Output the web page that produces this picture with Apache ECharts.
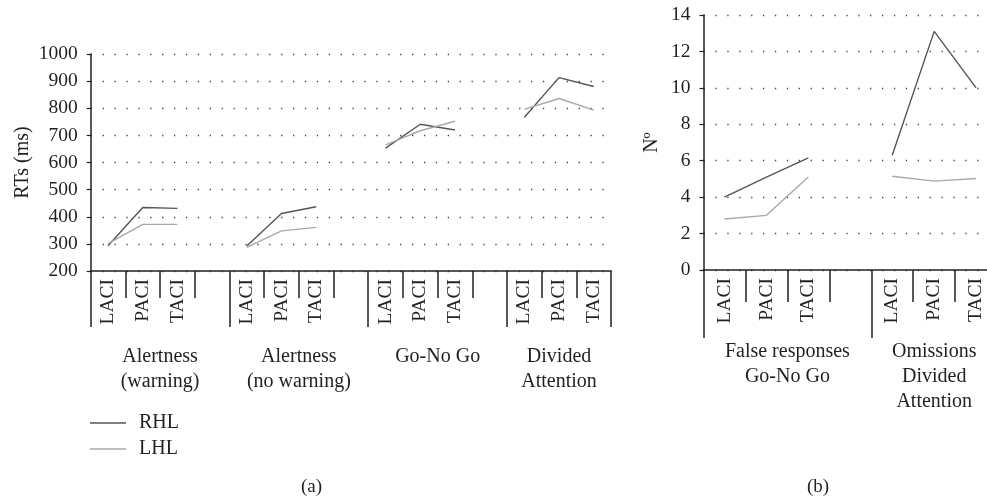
<!DOCTYPE html>
<html>
<head>
<meta charset="utf-8">
<script src="https://cdn.jsdelivr.net/npm/echarts@6/dist/echarts.min.js"></script>
<style>
  html, body { margin: 0; padding: 0; background: #fff; }
  #chart { width: 987px; height: 498px; }
</style>
</head>
<body>
<div id="chart"></div>
<script>
// data
const SUBTESTS = ['LACI', 'PACI', 'TACI'];
const GROUPS_A = ['Alertness\n(warning)', 'Alertness\n(no warning)', 'Go-No Go', 'Divided\nAttention'];
const GROUPS_B = ['False responses\nGo-No Go', 'Omissions\nDivided\nAttention'];

// RTs (ms), one row per task: LACI, PACI, TACI
const RHL_A = [[293, 434, 431], [292, 412, 437], [653, 741, 720], [767, 913, 880]];
const LHL_A = [[301, 372, 372], [287, 348, 361], [665, 717, 752], [796, 836, 793]];
// counts (Nº)
const RHL_B = [[4.0, 5.1, 6.15], [6.3, 13.1, 10.0]];
const LHL_B = [[2.8, 3.0, 5.1], [5.15, 4.88, 5.02]];

const font = 'Liberation Serif';
const ink = '#231f20';
const dark = '#555555';
const light = '#a9a9a9';

// category cells: LACI PACI TACI, blank between tasks
function buildCats(groups) {
  const cats = [];
  groups.forEach((g, i) => {
    cats.push(...SUBTESTS);
    if (i < groups.length - 1) cats.push('');
  });
  return cats;
}

function buildSeries(rows) {
  const out = [];
  rows.forEach((vals, i) => {
    out.push(...vals);
    if (i < rows.length - 1) out.push(null);
  });
  return out;
}

function groupStarts(groups) {
  return groups.map((g, i) => i * 4);
}

// half-cell points so a task label can sit at the middle of its span
function buildGroupAxis(groups, nCats) {
  const arr = new Array(2 * nCats + 1).fill('');
  let start = 0;
  groups.forEach((g, i) => {
    const size = i < groups.length - 1 ? 4 : 3;
    arr[2 * start + size] = g;
    start += size;
  });
  return arr;
}

const catsA = buildCats(GROUPS_A);
const catsB = buildCats(GROUPS_B);

function panelX(gridIndex, cats, groups, shortLen, longLen, groupMargin) {
  const starts = groupStarts(groups);
  return [
    {
      type: 'category', gridIndex, position: 'bottom', data: cats,
      axisLine: { lineStyle: { color: ink, width: 1.5 } },
      axisTick: { show: true, interval: 0, length: shortLen, lineStyle: { color: ink, width: 1.5 } },
      axisLabel: { interval: 0, rotate: 90, margin: 8, fontFamily: font, fontSize: 19.5, color: ink },
      splitLine: { show: false }
    },
    {
      type: 'category', gridIndex, position: 'bottom', data: cats,
      axisLine: { show: false },
      axisTick: { show: true, interval: (i) => starts.includes(i), length: longLen, lineStyle: { color: ink, width: 1.5 } },
      axisLabel: { show: false },
      splitLine: { show: false }
    },
    {
      type: 'category', gridIndex, position: 'bottom', boundaryGap: false,
      data: buildGroupAxis(groups, cats.length),
      axisLine: { show: false },
      axisTick: { show: false },
      axisLabel: { interval: 0, margin: groupMargin, fontFamily: font, fontSize: 20, lineHeight: 25, color: ink },
      splitLine: { show: false }
    }
  ];
}

function panelY(gridIndex, min, max, interval, name, nameGap) {
  return {
    type: 'value', gridIndex, min, max, interval,
    name, nameLocation: 'middle', nameGap, nameMoveOverlap: false,
    nameTextStyle: { fontFamily: font, fontSize: 20, color: ink },
    axisLine: { show: true, lineStyle: { color: ink, width: 1.5 } },
    axisTick: { show: true, length: 4, lineStyle: { color: ink, width: 1.2 } },
    axisLabel: { margin: 13, fontFamily: font, fontSize: 19.5, color: ink, formatter: (v) => String(v) },
    splitLine: { show: true, lineStyle: { color: '#444', width: 1.3, type: [1.3, 10.6] } }
  };
}

function line(name, data, xIdx, yIdx, color) {
  return {
    name, type: 'line', data, xAxisIndex: xIdx, yAxisIndex: yIdx,
    symbol: 'none', connectNulls: false, silent: true,
    lineStyle: { color, width: 1.4 }, itemStyle: { color }
  };
}

const chart = echarts.init(document.getElementById('chart'));
chart.setOption({
  animation: false,
  backgroundColor: '#fff',
  title: [
    { text: '(a)', left: 301, top: 478, padding: 0, textStyle: { fontFamily: font, fontSize: 19, fontWeight: 'normal', color: ink } },
    { text: '(b)', left: 807, top: 478, padding: 0, textStyle: { fontFamily: font, fontSize: 19, fontWeight: 'normal', color: ink } }
  ],
  legend: {
    data: ['RHL', 'LHL'],
    orient: 'vertical', left: 90, top: 412, padding: 0,
    icon: 'rect', itemWidth: 36, itemHeight: 1.4, itemGap: 4,
    textStyle: { fontFamily: font, fontSize: 20, lineHeight: 22, color: ink, padding: [0, 0, 0, 8] }
  },
  grid: [
    { left: 90.7, top: 54, width: 520.4, height: 217, outerBoundsMode: 'none' },
    { left: 703.5, top: 15, width: 293.6, height: 255, outerBoundsMode: 'none' }
  ],
  xAxis: [
    ...panelX(0, catsA, GROUPS_A, 27, 56, 73),
    ...panelX(1, catsB, GROUPS_B, 32, 68, 69)
  ],
  yAxis: [
    panelY(0, 200, 1000, 100, 'RTs (ms)', 58),
    panelY(1, 0, 14, 2, 'Nº', 42)
  ],
  series: [
    line('RHL', buildSeries(RHL_A), 0, 0, dark),
    line('LHL', buildSeries(LHL_A), 0, 0, light),
    line('RHL', buildSeries(RHL_B), 3, 1, dark),
    line('LHL', buildSeries(LHL_B), 3, 1, light)
  ]
});
</script>
</body>
</html>
